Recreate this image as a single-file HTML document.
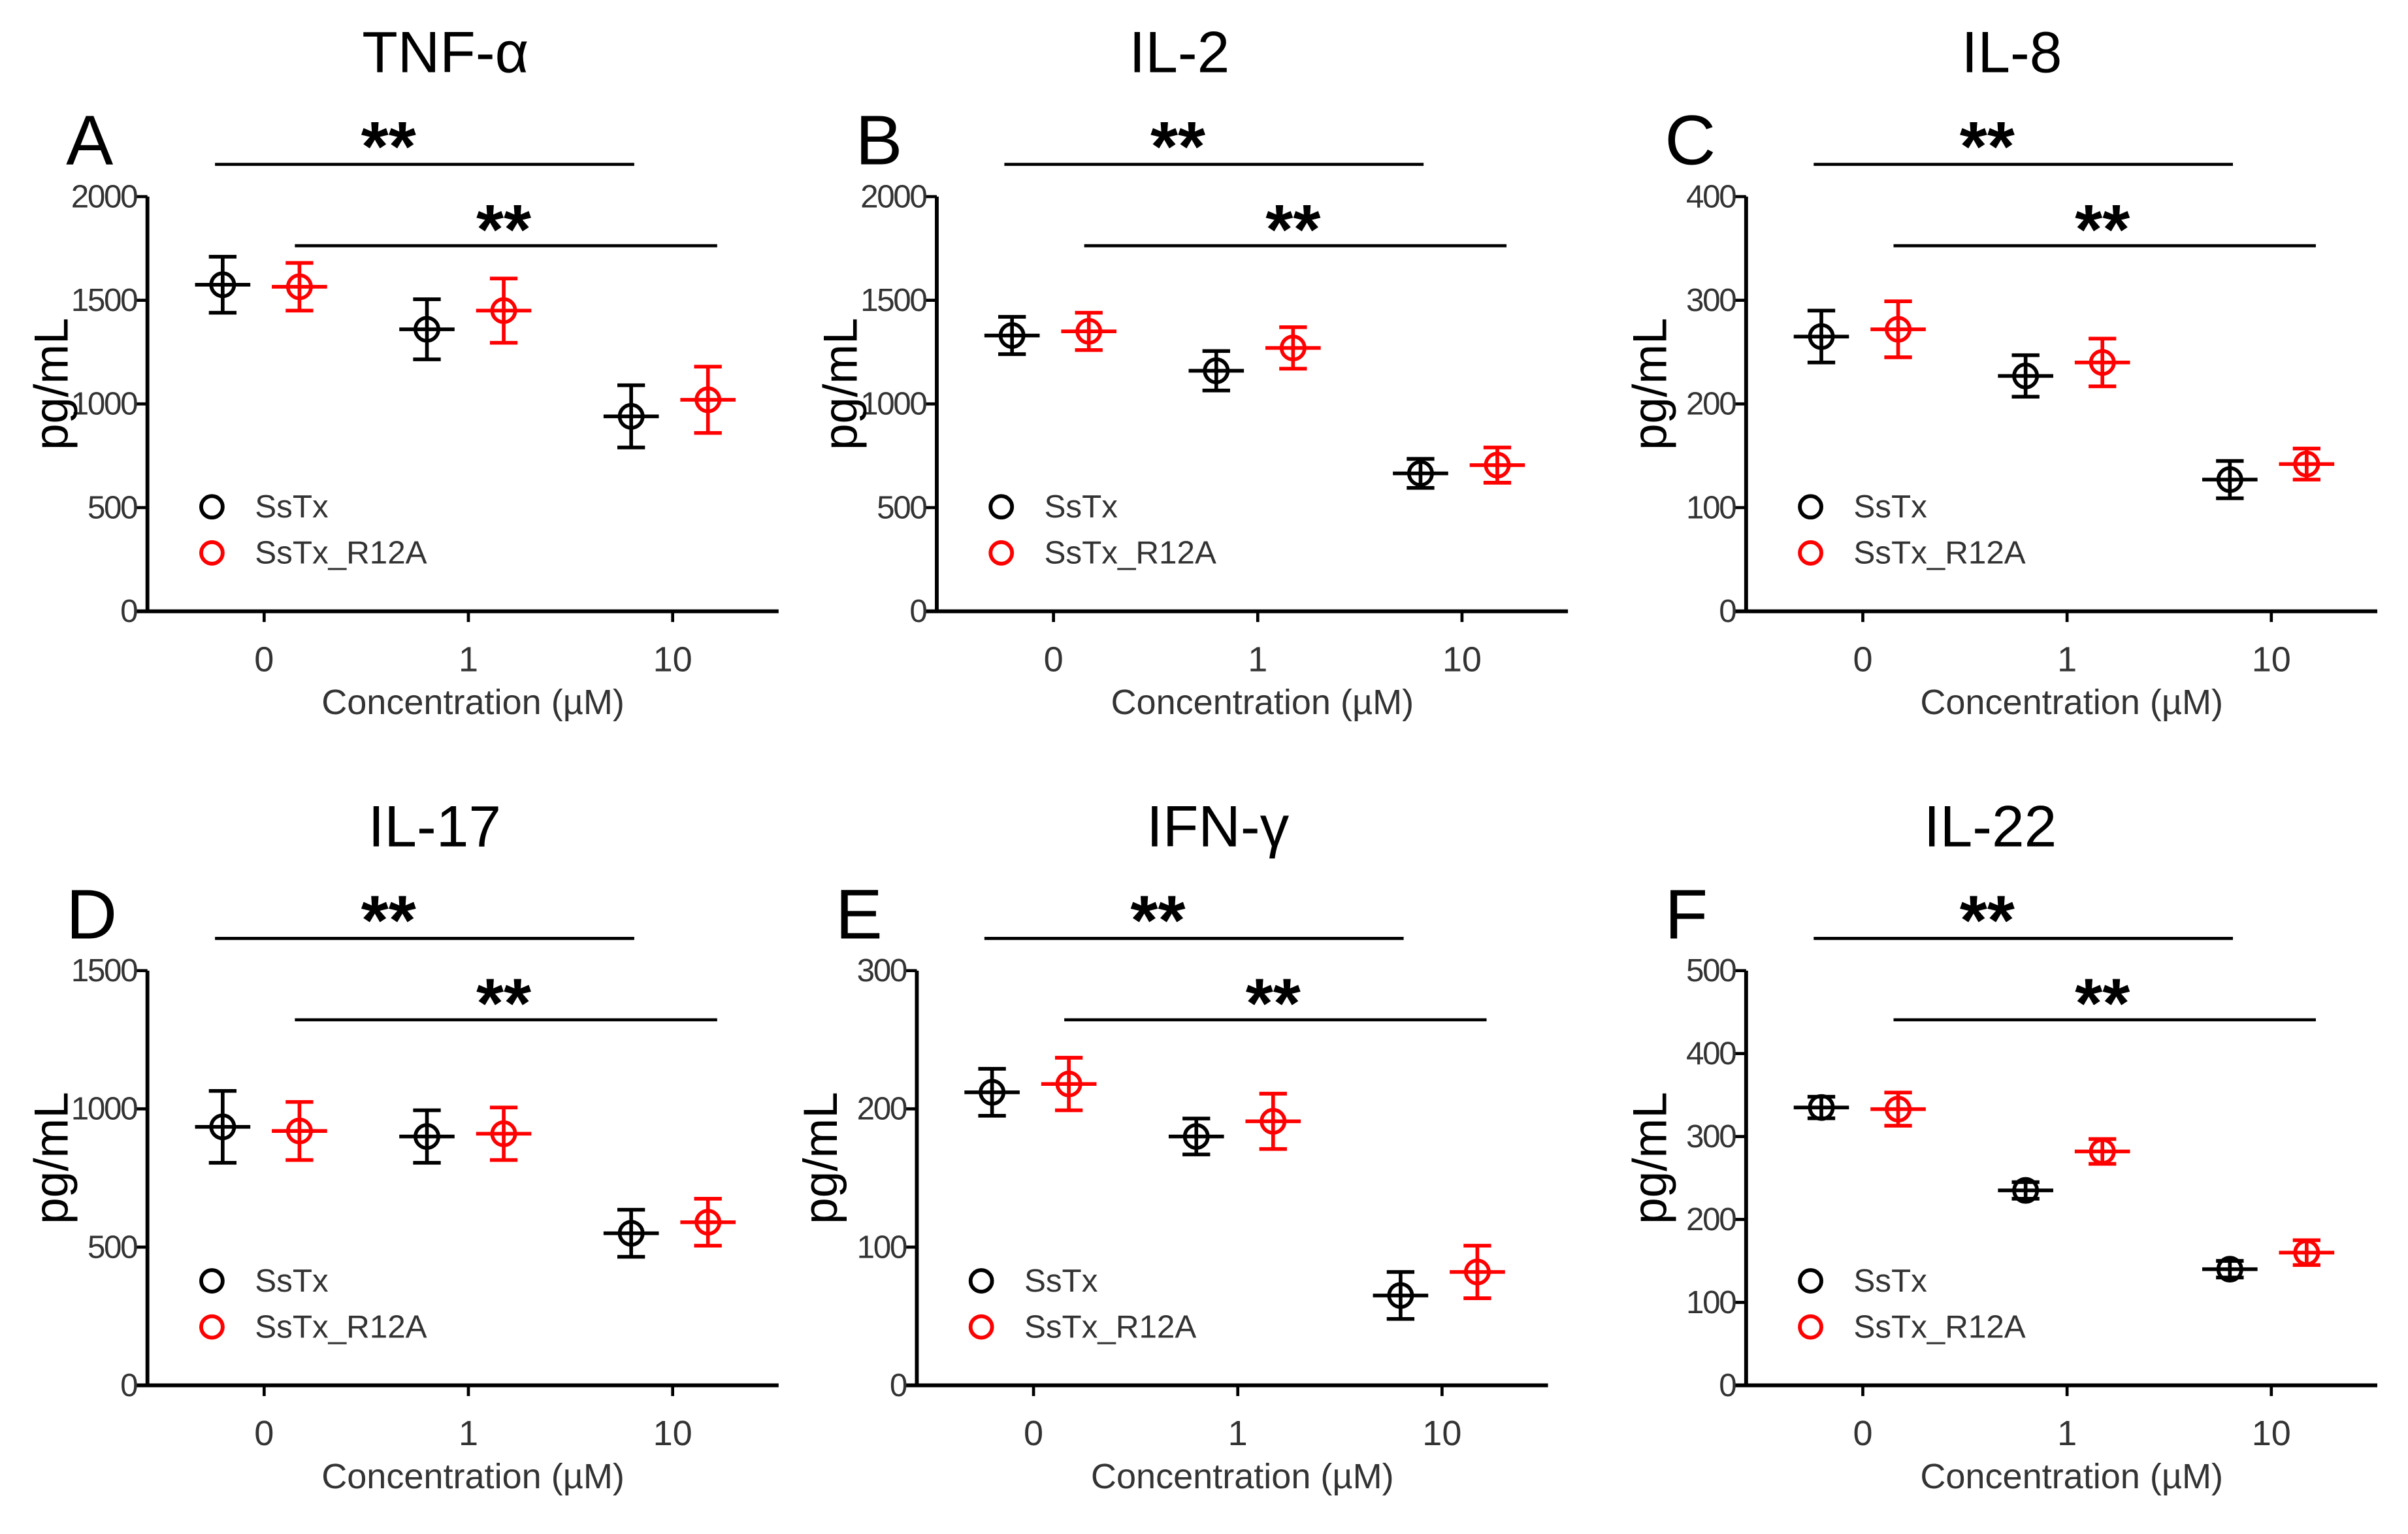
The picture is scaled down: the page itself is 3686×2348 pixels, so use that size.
<!DOCTYPE html>
<html><head><meta charset="utf-8"><style>
html,body{margin:0;padding:0;background:#fff}
svg{display:block}
text{font-family:"Liberation Sans",sans-serif}
</style></head><body>
<svg id="fig" width="3686" height="2348" viewBox="0 0 1568 998.8" xmlns="http://www.w3.org/2000/svg"></svg>
<script>
const titles = ["TNF-α","IL-2","IL-8","IL-17","IFN-γ","IL-22"];
const letters = ["A","B","C","D","E","F"];
const categories = ["0","1","10"];
const yMax = [2000,2000,400,1500,300,500];
const yStep = [500,500,100,500,100,100];
const blackVals = [[1575,1360,940],[1330,1160,665],[265,227,127],[935,900,550],[212,180,65],[335,235,140]];
const blackErr = [[135,145,150],[90,95,70],[25,20,18],[130,95,85],[17,13,17],[13,10,10]];
const redVals = [[1565,1450,1020],[1350,1270,705],[272,240,142],[920,910,590],[218,191,82],[333,282,160]];
const redErr = [[115,155,160],[90,100,85],[27,23,15],[105,95,85],[19,20,19],[20,15,15]];
const seriesNames = ["SsTx","SsTx_R12A"];

const NS="http://www.w3.org/2000/svg";
const svg=document.getElementById('fig');
function mk(tag,attrs,parent,txt){const e=document.createElementNS(NS,tag);for(const k in attrs)e.setAttribute(k,attrs[k]);if(txt!==undefined)e.textContent=txt;parent.appendChild(e);return e;}
const offX=[0,514,1041,0,501,1041];
const offY=[0,0,0,504,504,504];
const titleX=[290,254,269,283,292,255];
for(let p=0;p<6;p++){
  const g=mk('g',{transform:`translate(${offX[p]},${offY[p]})`},svg);
  
  
  const y0=398,y1=128;
  const ys=v=>y0-(v/yMax[p])*(y0-y1);
  const xs=i=>172+i*133;
  const t=mk('text',{x:titleX[p],y:47,'font-size':38,'text-anchor':'middle'},g,titles[p]);
  
  const l=mk('text',{x:43,y:107,'font-size':46},g,letters[p]);
  
  const ya=mk('line',{x1:96,y1:y1,x2:96,y2:y0+1,stroke:'#000','stroke-width':2.5},g);
  
  const xa=mk('line',{x1:89,y1:y0,x2:507,y2:y0,stroke:'#000','stroke-width':2.5},g);
  
  for(let v=0;v<=yMax[p];v+=yStep[p]){
    mk('line',{x1:89,y1:ys(v),x2:96,y2:ys(v),stroke:'#000','stroke-width':2},g);
    const tl=mk('text',{x:89,y:ys(v)+7,'font-size':21,'text-anchor':'end',fill:'#333','letter-spacing':-1},g,String(v));
    
  }
  categories.forEach((c,i)=>{
    mk('line',{x1:xs(i),y1:y0,x2:xs(i),y2:y0+7,stroke:'#000','stroke-width':2},g);
    const tl=mk('text',{x:xs(i),y:437,'font-size':23,'text-anchor':'middle',fill:'#333'},g,c);
    
  });
  const xt=mk('text',{x:308,y:465,'font-size':23,'text-anchor':'middle',fill:'#333'},g,'Concentration (µM)');
  
  const yt=mk('text',{x:0,y:0,'font-size':31,'text-anchor':'middle',transform:'translate(44,250) rotate(-90)'},g,'pg/mL');
  
  const s1=mk('line',{x1:140,y1:107,x2:413,y2:107,stroke:'#000','stroke-width':2},g);
  
  const a1=mk('text',{x:253,y:111,'font-size':46,'text-anchor':'middle','font-weight':'bold'},g,'**');
  
  const s2=mk('line',{x1:192,y1:160,x2:467,y2:160,stroke:'#000','stroke-width':2},g);
  
  const a2=mk('text',{x:328,y:165,'font-size':46,'text-anchor':'middle','font-weight':'bold'},g,'**');
  
  [[blackVals,blackErr,'#000',-27],[redVals,redErr,'#f00',23]].forEach(([vals,errs,col,dx],si)=>{
    vals[p].forEach((v,i)=>{
      const cx=xs(i)+dx,cy=ys(v),e1=ys(v+errs[p][i]),e2=ys(v-errs[p][i]);
      const pt=mk('g',{stroke:col,'stroke-width':2.4,fill:'none'},g);
      
      
      mk('line',{x1:cx,y1:e1,x2:cx,y2:e2},pt);
      mk('line',{x1:cx-9,y1:e1,x2:cx+9,y2:e1},pt);
      mk('line',{x1:cx-9,y1:e2,x2:cx+9,y2:e2},pt);
      mk('line',{x1:cx-18,y1:cy,x2:cx+18,y2:cy},pt);
      mk('circle',{cx:cx,cy:cy,r:7.5},pt);
    });
  });
  seriesNames.forEach((n,i)=>{
    const lg=mk('g',{},g);
    
    mk('circle',{cx:138,cy:330+i*30,r:7,fill:'none',stroke:i?'#f00':'#000','stroke-width':2.5},lg);
    mk('text',{x:166,y:337+i*30,'font-size':21,fill:'#333'},lg,n);
  });
}
</script>
</body></html>
